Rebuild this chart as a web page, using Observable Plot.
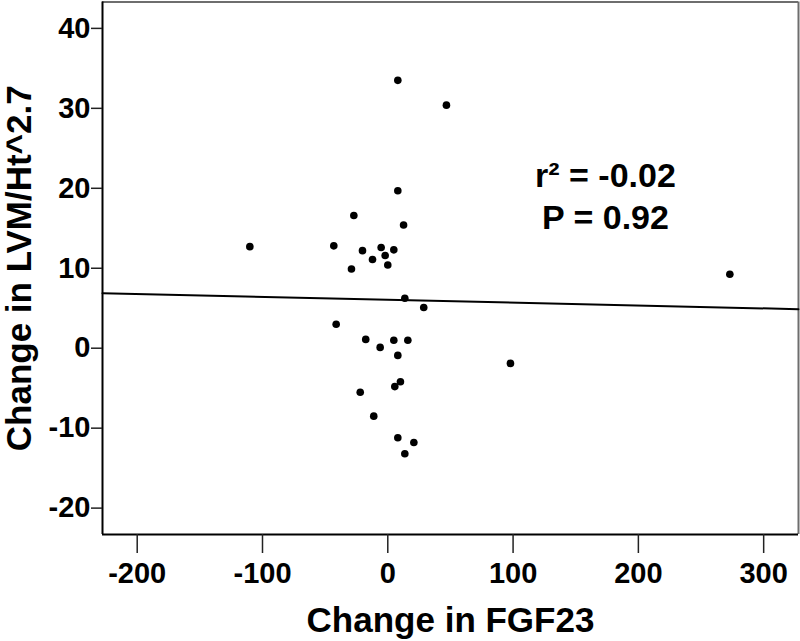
<!DOCTYPE html>
<html>
<head>
<meta charset="utf-8">
<script src="https://cdn.jsdelivr.net/npm/d3@7"></script>
<script src="https://cdn.jsdelivr.net/npm/@observablehq/plot@0.6"></script>
<style>
  html, body { margin: 0; padding: 0; background: #fff; }
  #chart svg { display: block; }
</style>
</head>
<body>
<div id="chart"></div>
<script>
// Change in FGF23 (x) vs change in LVM/Ht^2.7 (y)
const fgf23Change = [8.0, 46.8, 8.0, -27.1, 12.6, -110.1, -43.1, -20.2, -5.3, 4.8, -2.1, -12.2, 0.0, -29.0, 13.6, 28.7, -41.2, -17.6, 4.8, 16.0, -6.1, 8.0, 10.1, 5.6, -22.0, -11.2, 8.0, 20.8, 13.6, 273.0, 97.9];
const lvmChange   = [33.5, 30.4, 19.7, 16.6, 15.4, 12.7, 12.8, 12.2, 12.6, 12.3, 11.6, 11.1, 10.4, 9.9, 6.25, 5.1, 3.0, 1.1, 1.0, 1.0, 0.1, -0.9, -4.2, -4.8, -5.5, -8.5, -11.2, -11.8, -13.2, 9.25, -1.9];

const xTicks = [-200, -100, 0, 100, 200, 300];
const yTicks = [-20, -10, 0, 10, 20, 30, 40];
const xDomain = [-227.7, 327.8];
const yDomain = [-23.3, 43.3];

// fitted regression line (intercept, slope) and statistics text
const fitIntercept = 6.06;
const fitSlope = -0.0036;
const statLines = ["r\u00B2 = -0.02", "P = 0.92"];
const statX = 173.7;
const statY = [20.16, 14.91];

const xLabel = "Change in FGF23";
const yLabel = "Change in LVM/Ht^2.7";

const points = fgf23Change.map((x, i) => ({x, y: lvmChange[i]}));
const fitLine = xDomain.map(x => ({x, y: fitIntercept + fitSlope * x}));
const stats = statLines.map((t, i) => ({t, x: statX, y: statY[i]}));

const font = "'Liberation Sans', Arial, sans-serif";

const chart = Plot.plot({
  width: 800,
  height: 641,
  marginLeft: 102,
  marginRight: 2,
  marginTop: 1.5,
  marginBottom: 107,
  style: {fontFamily: font, fontWeight: "bold", fontSize: "29px", color: "#000", background: "#fff"},
  x: {domain: xDomain, ticks: xTicks},
  y: {domain: yDomain, ticks: yTicks},
  marks: [
    // frame: gray top/right, black left/bottom
    Plot.ruleY([yDomain[1]], {stroke: "#6e6e6e", strokeWidth: 2}),
    Plot.ruleX([xDomain[1]], {stroke: "#6e6e6e", strokeWidth: 2}),
    Plot.ruleX([xDomain[0]], {stroke: "#000", strokeWidth: 2}),
    Plot.ruleY([yDomain[0]], {stroke: "#000", strokeWidth: 2}),
    Plot.axisX({ticks: xTicks, tickSize: 19, tickPadding: 9, tickFormat: d => String(d), fontSize: 29, fontWeight: "bold", stroke: "#222", strokeWidth: 1.5, label: null}),
    Plot.axisY({ticks: yTicks, tickSize: 11, tickPadding: 1, tickFormat: d => String(d), fontSize: 29, fontWeight: "bold", stroke: "#222", strokeWidth: 1.5, label: null}),
    Plot.text([xLabel], {frameAnchor: "bottom", lineAnchor: "top", textAnchor: "middle", dy: 73, text: d => d, fontSize: 35, fontWeight: "bold", fill: "#000"}),
    Plot.text([yLabel], {frameAnchor: "left", rotate: -90, lineAnchor: "top", textAnchor: "middle", dx: -96, text: d => d, fontSize: 35, fontWeight: "bold", fill: "#000"}),
    Plot.line(fitLine, {x: "x", y: "y", stroke: "#000", strokeWidth: 2}),
    Plot.dot(points, {x: "x", y: "y", r: 3.8, fill: "#000", stroke: "none"}),
    Plot.text(stats, {x: "x", y: "y", text: "t", lineAnchor: "bottom", textAnchor: "middle", fontSize: 34, fontWeight: "bold", fill: "#000"})
  ]
});
document.getElementById("chart").appendChild(chart);
</script>
</body>
</html>
